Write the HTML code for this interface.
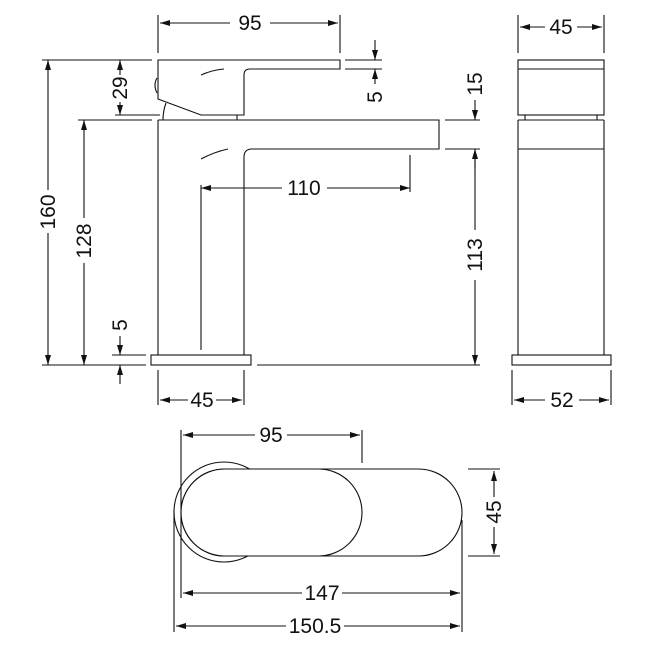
<!DOCTYPE html>
<html><head><style>
html,body{margin:0;padding:0;background:#fff;width:650px;height:650px;overflow:hidden}
text{font-family:"Liberation Sans",sans-serif;font-size:21px;fill:#111}
</style></head><body>
<svg width="650" height="650" viewBox="0 0 650 650" xmlns="http://www.w3.org/2000/svg">
<defs>
<marker id="a" viewBox="0 0 10 6" refX="10" refY="3" markerWidth="10" markerHeight="6" orient="auto-start-reverse" markerUnits="userSpaceOnUse"><path d="M0,0L10,3L0,6z" fill="#111"/></marker>
</defs>
<g stroke="#111" stroke-width="1.1" fill="none">
<path d="M158,60H340V69H250Q244,69 244,75V115H201L158,99Z" fill="#fff"/>
<path d="M201,75Q212,70 224,69"/>
<path d="M157,78Q153,85 157,93"/>
<path d="M166,103Q163,111 163,120M237,115V120"/>
<path d="M158,120H439V149H252Q244,149 244,157V355M158,120V355"/>
<path d="M201,159Q214,152 228,149"/>
<path d="M201,185V350"/>
<rect x="151" y="355" width="100" height="10" fill="#fff"/>
<path d="M42,365H146M257,365H480"/>
<path d="M158,15V53M340,15V53"/>
<path d="M230,23H160" marker-end="url(#a)"/><path d="M270,23H338" marker-end="url(#a)"/>
<path d="M345,60H382M345,69H382"/>
<path d="M375,40V60" marker-end="url(#a)"/><path d="M375,84V69" marker-end="url(#a)"/>
<path d="M445,120H480M445,149H480"/>
<path d="M475,100V120" marker-end="url(#a)"/><path d="M475,169V149" marker-end="url(#a)"/>
<path d="M475,280V365" marker-end="url(#a)"/><path d="M475,230V149"/>
<path d="M410,155V192"/>
<path d="M282,188H201" marker-end="url(#a)"/><path d="M327,188H410" marker-end="url(#a)"/>
<path d="M42,60H152M115,115H160M78,120H152"/>
<path d="M120,75V60" marker-end="url(#a)"/><path d="M120,102V115" marker-end="url(#a)"/>
<path d="M48,190V60" marker-end="url(#a)"/><path d="M48,233V365" marker-end="url(#a)"/>
<path d="M84,218V120" marker-end="url(#a)"/><path d="M84,263V365" marker-end="url(#a)"/>
<path d="M112,355H146"/>
<path d="M120,336V355" marker-end="url(#a)"/><path d="M120,384V365" marker-end="url(#a)"/>
<path d="M158,370V405M244,370V405"/>
<path d="M188,400H160" marker-end="url(#a)"/><path d="M216,400H242" marker-end="url(#a)"/>
<rect x="518" y="60" width="86" height="55" fill="#fff"/>
<path d="M518,69H604M525,115V120M597,115V120"/>
<path d="M518,120H604M518,149H604M518,120V355M604,120V355"/>
<rect x="512" y="355" width="99" height="10" fill="#fff"/>
<path d="M518,15V53M604,15V53"/>
<path d="M545,27H520" marker-end="url(#a)"/><path d="M577,27H602" marker-end="url(#a)"/>
<path d="M512,370V405M611,370V405"/>
<path d="M545,400H514" marker-end="url(#a)"/><path d="M579,400H609" marker-end="url(#a)"/>
<circle cx="224" cy="512" r="50" fill="#fff"/>
<rect x="181" y="469" width="281" height="87" rx="43.5" fill="#fff"/>
<rect x="181" y="469" width="181" height="87" rx="43.5" fill="#fff"/>
<path d="M181,430V598M362,430V463M174,510V632M462,520V632"/>
<path d="M255,435H183" marker-end="url(#a)"/><path d="M287,435H360" marker-end="url(#a)"/>
<path d="M468,469H500M468,556H500"/>
<path d="M494,497V471" marker-end="url(#a)"/><path d="M494,527V554" marker-end="url(#a)"/>
<path d="M302,593H183" marker-end="url(#a)"/><path d="M342,593H460" marker-end="url(#a)"/>
<path d="M286,626H176" marker-end="url(#a)"/><path d="M344,626H460" marker-end="url(#a)"/>
</g>
<g>
<text x="250" y="30" text-anchor="middle">95</text>
<text x="561" y="34" text-anchor="middle">45</text>
<text x="304" y="195" text-anchor="middle">110</text>
<text x="202" y="407" text-anchor="middle">45</text>
<text x="562" y="407" text-anchor="middle">52</text>
<text x="271" y="442" text-anchor="middle">95</text>
<text x="322" y="600" text-anchor="middle">147</text>
<text x="315" y="633" text-anchor="middle">150.5</text>
<text transform="translate(127,88) rotate(-90)" text-anchor="middle">29</text>
<text transform="translate(55,212) rotate(-90)" text-anchor="middle">160</text>
<text transform="translate(91,241) rotate(-90)" text-anchor="middle">128</text>
<text transform="translate(127,325) rotate(-90)" text-anchor="middle">5</text>
<text transform="translate(382,97) rotate(-90)" text-anchor="middle">5</text>
<text transform="translate(482,84) rotate(-90)" text-anchor="middle">15</text>
<text transform="translate(482,255) rotate(-90)" text-anchor="middle">113</text>
<text transform="translate(501,512) rotate(-90)" text-anchor="middle">45</text>
</g>
</svg>
</body></html>
